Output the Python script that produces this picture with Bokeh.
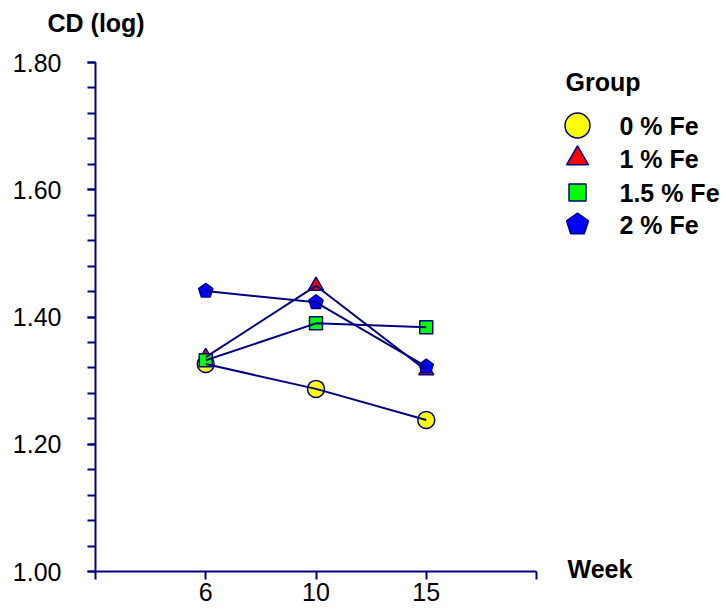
import numpy as np
from bokeh.plotting import figure
from bokeh.models import Range1d, FixedTicker, Label, NumeralTickFormatter
from bokeh.core.properties import value
from bokeh.embed import file_html
from bokeh.resources import INLINE

# ---------------- data ----------------
weeks = ["6", "10", "15"]
week_pos = [1, 2, 3]
groups = ["0 % Fe", "1 % Fe", "1.5 % Fe", "2 % Fe"]
cd_0 = [1.326, 1.287, 1.238]
cd_1 = [1.337, 1.449, 1.316]
cd_15 = [1.332, 1.390, 1.384]
cd_2 = [1.441, 1.423, 1.322]
y_ticks = [1.0, 1.2, 1.4, 1.6, 1.8]

# ---------------- layout ----------------
W, H = 726, 614
X_PX0, X_PX1 = 95, 536      # axis extent in px (0..4)
Y_PX0, Y_PX1 = 571, 62      # 1.0 .. 1.8
XPU = (X_PX1 - X_PX0) / 4.0
YPU = (Y_PX0 - Y_PX1) / 0.8


def dx(px):
    return (px - X_PX0) / XPU


def dy(py):
    return 1.0 + (Y_PX0 - py) / YPU


NAVY = "#000080"
FONT = "Liberation Sans"
TICK_FS = "25px"
BOLD_FS = "25px"

p = figure(width=W, height=H,
           x_range=Range1d(dx(0), dx(W)), y_range=Range1d(dy(H), dy(0)),
           output_backend="svg", toolbar_location=None, min_border=0)
p.outline_line_color = None
p.xgrid.visible = False
p.ygrid.visible = False
p.background_fill_color = "white"
p.border_fill_color = "white"

# x axis
xa = p.xaxis[0]
xa.fixed_location = 1.0
xa.ticker = FixedTicker(ticks=[0, 1, 2, 3, 4])
xa.major_label_overrides = {0: "", 4: "", **{pos: lab for pos, lab in zip(week_pos, weeks)}}
xa.bounds = (0, 4)
xa.minor_tick_line_color = None
xa.major_tick_in = 0
xa.major_tick_out = 8
xa.major_label_standoff = 3

# y axis
ya = p.yaxis[0]
ya.fixed_location = 0
minor = [round(v, 2) for v in np.arange(1.0, 1.8001, 0.04)]
ya.ticker = FixedTicker(ticks=y_ticks, minor_ticks=minor)
ya.formatter = NumeralTickFormatter(format="0.00")
ya.bounds = (1.0, 1.8)
ya.major_tick_in = 0
ya.major_tick_out = 8
ya.minor_tick_in = 0
ya.minor_tick_out = 8
ya.minor_tick_line_color = NAVY
ya.major_label_standoff = 26

for ax in (xa, ya):
    ax.axis_line_color = NAVY
    ax.axis_line_width = 2
    ax.major_tick_line_color = NAVY
    ax.major_tick_line_width = 2
    ax.minor_tick_line_width = 2
    ax.major_label_text_font = FONT
    ax.major_label_text_font_size = TICK_FS
    ax.major_label_text_color = "black"

series = [cd_0, cd_1, cd_15, cd_2]

# markers
p.scatter(week_pos, cd_0, marker="circle", size=17, fill_color="#FFFF00", line_color=NAVY, line_width=1.5)
p.scatter(week_pos, cd_1, marker="triangle", size=15, fill_color="#FF0000", line_color=NAVY, line_width=1.5)
p.scatter(week_pos, cd_15, marker="square", size=13, fill_color="#00FF00", line_color=NAVY, line_width=1.5)
p.ngon(x=week_pos, y=cd_2, radius=7.5, radius_units="screen", n=5,
       fill_color="#0000FF", line_color=NAVY, line_width=1.5)

# connecting lines
for s in series:
    p.line(week_pos, s, line_color=NAVY, line_width=2)

# axis titles
p.add_layout(Label(x=dx(47), y=dy(22), text="CD (log)", text_font=FONT,
                   text_font_style="bold", text_font_size=BOLD_FS,
                   text_baseline="middle", text_color="black"))
p.add_layout(Label(x=dx(567), y=dy(568), text="Week", text_font=FONT,
                   text_font_style="bold", text_font_size=BOLD_FS,
                   text_baseline="middle", text_color="black"))

# legend (drawn manually to get large markers)
p.add_layout(Label(x=dx(565), y=dy(81), text="Group", text_font=FONT,
                   text_font_style="bold", text_font_size=BOLD_FS,
                   text_baseline="middle", text_color="black"))
leg_y = [dy(v) for v in (125, 158, 192, 224)]
mx = dx(577)
p.scatter([mx], [leg_y[0]], marker="circle", size=25, fill_color="#FFFF00", line_color=NAVY, line_width=1.5)
p.scatter([mx], [leg_y[1]], marker="triangle", size=22, fill_color="#FF0000", line_color=NAVY, line_width=1.5)
p.scatter([mx], [leg_y[2]], marker="square", size=17, fill_color="#00FF00", line_color=NAVY, line_width=1.5)
p.ngon(x=[mx], y=[leg_y[3]], radius=11.5, radius_units="screen", n=5,
       fill_color="#0000FF", line_color=NAVY, line_width=1.5)
p.text(x=[dx(619)] * len(groups), y=leg_y, text=groups,
       text_font=value(FONT), text_font_style="bold", text_font_size=BOLD_FS,
       text_baseline="middle", text_color="black")

open("out.html", "w").write(file_html(p, INLINE))
